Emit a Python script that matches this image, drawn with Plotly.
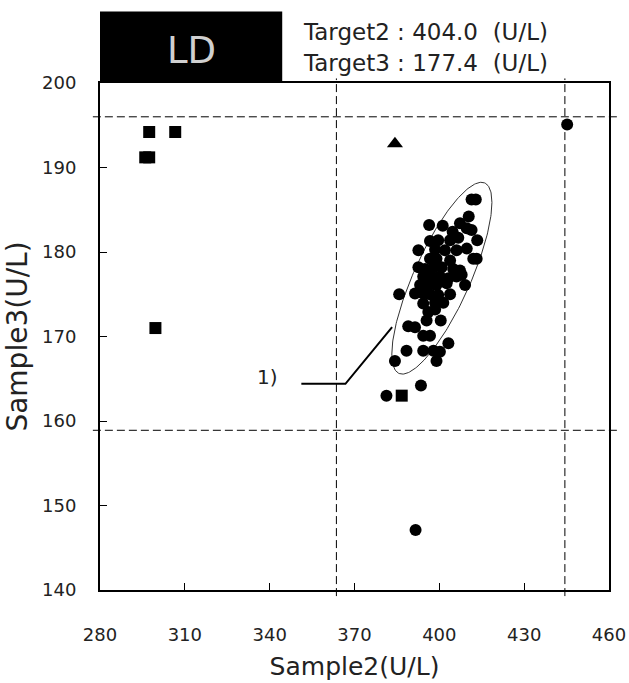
import numpy as np
import plotly.graph_objects as go

# Target values (U/L)
target2 = 404.0
target3 = 177.4

# Acceptance limits drawn as dashed guide lines
x_limits = [363.6, 444.4]
y_limits = [158.9, 196.0]

# Main population (circles)
circle_x = [411.4, 412.9, 410.4, 396.4, 401.2, 407.3, 404.7, 409.7, 411.4, 396.7,
            399.6, 403.8, 406.7, 413.4, 392.6, 398.5, 402.0, 406.1, 409.7, 396.7,
            399.0, 403.8, 412.0, 413.2, 392.6, 394.9, 397.9, 400.8, 404.9, 407.3,
            394.3, 397.3, 400.2, 403.2, 406.1, 407.9, 393.2, 396.1, 399.0, 402.6,
            409.1, 385.8, 391.4, 394.3, 396.7, 399.6, 403.8, 394.3, 398.5, 401.4,
            396.1, 398.5, 395.5, 400.5, 389.0, 391.4, 394.3, 396.7, 403.2, 388.4,
            394.3, 397.9, 400.2, 384.3, 399.0,
            445.2, 391.6, 393.5, 381.3]
circle_y = [186.2, 186.2, 184.2, 183.2, 183.1, 183.4, 182.4, 182.8, 182.6, 181.3,
            181.4, 181.4, 181.7, 181.4, 180.2, 180.3, 180.2, 180.2, 180.4, 179.2,
            179.2, 179.0, 179.2, 179.2, 178.2, 178.0, 178.2, 178.2, 178.0, 177.8,
            177.1, 177.1, 177.1, 176.9, 177.1, 177.3, 176.1, 176.1, 176.1, 176.3,
            176.1, 175.0, 175.1, 175.1, 175.0, 174.9, 175.0, 173.9, 174.0, 174.0,
            172.9, 173.2, 171.9, 171.9, 171.2, 171.1, 170.1, 170.1, 169.2, 168.3,
            168.3, 168.3, 168.2, 167.1, 167.1,
            195.1, 147.1, 164.2, 163.0]

# Second group (squares)
square_x = [297.4, 306.6, 296.0, 297.4, 299.6, 386.7]
square_y = [194.2, 194.2, 191.2, 191.2, 171.0, 163.0]

# Third group (triangle)
triangle_x = [384.3]
triangle_y = [192.8]

# Ellipse around the main population: centre, half-extents, correlation
ell_center = (400.9, 176.9)
ell_half = (17.7, 11.35)
ell_rho = 0.79

# Leader line for note "1)"
note_x = [351.2, 366.8, 383.3]
note_y = [164.4, 164.4, 171.1]
note_label = (339.1, 165.2)

FONT = "DejaVu Sans"
INK = "#222222"

t = np.linspace(0, 2 * np.pi, 241)
ex = ell_center[0] + ell_half[0] * np.cos(t)
ey = ell_center[1] + ell_half[1] * (ell_rho * np.cos(t) + np.sqrt(1 - ell_rho ** 2) * np.sin(t))

fig = go.Figure()
fig.add_trace(go.Scatter(x=ex, y=ey, mode="lines",
                         line=dict(color="#333333", width=1), hoverinfo="skip"))
fig.add_trace(go.Scatter(x=circle_x, y=circle_y, mode="markers",
                         marker=dict(symbol="circle", size=12, color="black")))
fig.add_trace(go.Scatter(x=square_x, y=square_y, mode="markers",
                         marker=dict(symbol="square", size=12, color="black")))
fig.add_trace(go.Scatter(x=triangle_x, y=triangle_y, mode="markers",
                         marker=dict(symbol="triangle-up", size=14, color="black")))
fig.add_trace(go.Scatter(x=note_x, y=note_y, mode="lines",
                         line=dict(color="black", width=2), hoverinfo="skip"))

dash = "8px,4px"
shapes = []
for xv in x_limits:
    shapes.append(dict(type="line", xref="x", yref="paper", x0=xv, x1=xv,
                       y0=-0.012, y1=1.009, line=dict(color="black", width=1, dash=dash)))
for yv in y_limits:
    shapes.append(dict(type="line", xref="paper", yref="y", x0=-0.014, x1=1.019,
                       y0=yv, y1=yv, line=dict(color="black", width=1, dash=dash)))
# black title box
shapes.append(dict(type="rect", xref="paper", yref="paper", x0=0, x1=0.358,
                   y0=1.0, y1=1.141, fillcolor="black", line=dict(width=0)))

annotations = [
    dict(text="LD", xref="paper", yref="paper", x=0.179, y=1.064,
         showarrow=False, font=dict(family=FONT, size=37, color="#d0d0d0"),
         xanchor="center", yanchor="middle"),
    dict(text=f"Target2 : {target2:.1f}\u00a0 (U/L)", xref="paper", yref="paper",
         x=0.394, y=1.100, showarrow=False, xanchor="left", yanchor="middle",
         font=dict(family=FONT, size=23, color=INK)),
    dict(text=f"Target3 : {target3:.1f}\u00a0 (U/L)", xref="paper", yref="paper",
         x=0.394, y=1.040, showarrow=False, xanchor="left", yanchor="middle",
         font=dict(family=FONT, size=23, color=INK)),
    dict(text="1)", xref="x", yref="y", x=note_label[0], y=note_label[1],
         showarrow=False, xanchor="center", yanchor="middle",
         font=dict(family=FONT, size=20, color=INK)),
]

fig.update_layout(
    width=629, height=683,
    margin=dict(l=100, r=20, t=83, b=93),
    paper_bgcolor="white", plot_bgcolor="white",
    showlegend=False,
    shapes=shapes, annotations=annotations,
    font=dict(family=FONT, color=INK),
)
fig.update_xaxes(range=[280, 460], tickvals=[280, 310, 340, 370, 400, 430, 460],
                 automargin=False,
                 showgrid=False, zeroline=False, showline=True, mirror=True,
                 linecolor="black", linewidth=2, ticks="inside", ticklen=7,
                 tickcolor="black", tickwidth=1, ticklabelstandoff=27,
                 tickfont=dict(family=FONT, size=18, color=INK),
                 title=dict(text="Sample2(U/L)", font=dict(family=FONT, size=25, color=INK),
                            standoff=14))
fig.update_yaxes(range=[140, 200], tickvals=[140, 150, 160, 170, 180, 190, 200],
                 automargin=False,
                 showgrid=False, zeroline=False, showline=True, mirror=True,
                 linecolor="black", linewidth=2, ticks="inside", ticklen=7,
                 tickcolor="black", tickwidth=1, ticklabelstandoff=18,
                 tickfont=dict(family=FONT, size=18, color=INK),
                 title=dict(text="Sample3(U/L)", font=dict(family=FONT, size=28, color=INK),
                            standoff=6))

fig.write_html("out.html")
